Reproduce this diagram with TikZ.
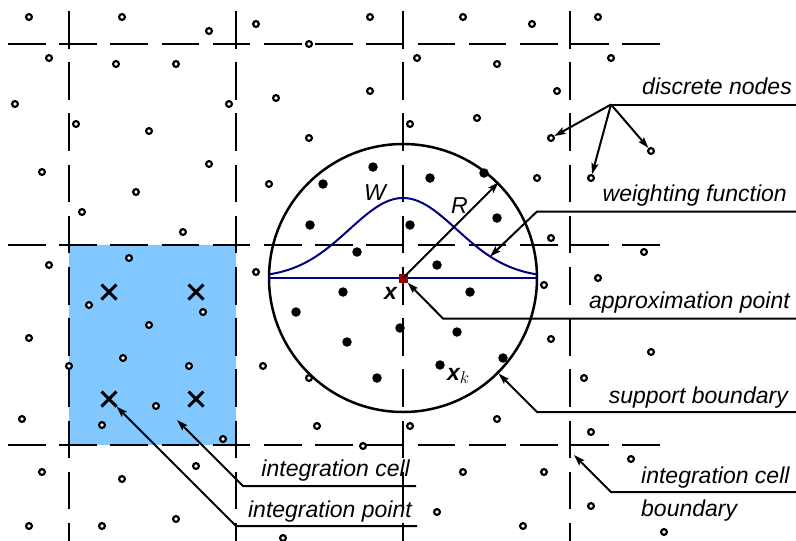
\documentclass[tikz,border=0pt]{standalone}
\usepackage{fontspec}
\setmainfont{Liberation Sans}
\usetikzlibrary{arrows.meta,shapes.misc}
\definecolor{cellblue}{RGB}{128,200,255}
\definecolor{wnavy}{RGB}{0,0,128}
\definecolor{apred}{RGB}{150,0,0}
\newcommand{\tagfont}{\fontsize{23}{27}\selectfont\itshape}

\begin{document}
\begin{tikzpicture}[
  x=1pt, y=-1pt,
  gridline/.style={line width=2pt, dash pattern=on 37.5pt off 13.7pt},
  dnode/.style={circle, draw, line width=2.2pt, fill=white, minimum size=5.8pt, inner sep=0pt},
  fnode/.style={circle, fill=black, minimum size=9.5pt, inner sep=0pt},
  ipoint/.style={cross out, draw, line width=3pt, minimum size=12pt, inner sep=0pt},
  tag/.style={font=\tagfont, inner sep=0pt},
  leader/.style={line width=2pt},
  arrow/.style={-{Stealth[length=11pt,width=7pt,inset=2pt]}, line width=2pt},
  wcurve/.style={wnavy, line width=2pt}
]
  \useasboundingbox (0,0) rectangle (796,541);

  \node[fill=cellblue, minimum width=167pt, minimum height=200pt, inner sep=0pt] (cell) at (152.5,345) {};

  \foreach \gx in {69,236,403,570}
    \draw[gridline] (\gx,11) -- (\gx,541);
  \foreach \gy in {44,245,445}
    \draw[gridline] (8,\gy) -- (660,\gy);

  \node[circle, draw, line width=2.5pt, minimum size=268pt, inner sep=0pt] (supp) at (403,278) {};
  \draw[wcurve] plot[domain=-134:134, samples=90, smooth] ({403+\x},{278-80*exp(-(\x/76)*(\x/76))});
  \draw[wcurve] (supp.west) -- (supp.east);

  \foreach \px/\py [count=\i] in {373/167, 323/184, 430/178, 484/173, 310/225, 410/225, 497/218, 357/252,
    437/265, 343/292, 470/292, 296/312, 400/328, 457/332, 347/342, 503/358, 440/365, 377/378}
    \node[fnode] (k\i) at (\px,\py) {};

  \foreach \px/\py [count=\i] in {109/292, 196/292, 109/399, 196/399}
    \node[ipoint] (ip\i) at (\px,\py) {};

  \foreach \px/\py [count=\i] in {29/17, 122/17, 209/31, 256/24, 370/17, 463/17, 532/24, 598/17,
    49/58, 116/64, 176/64, 309/44, 417/58, 497/64, 611/58,
    15/104, 229/104, 276/98, 370/91, 557/91, 76/124, 149/131, 410/124, 477/118, 309/138,
    42/172, 209/164, 269/184, 537/178, 136/192, 82/212, 183/232, 551/238, 644/252,
    49/265, 129/258, 256/272, 89/305, 203/312, 149/325, 29/338, 123/358, 69/366, 189/366, 263/366,
    156/406, 22/419, 102/425, 223/439, 42/472, 122/479, 196/466, 29/526, 102/526, 176/519,
    309/378, 317/426, 410/426, 497/419, 363/446, 463/472, 437/512, 523/526, 283/538,
    544/285, 598/278, 551/339, 651/352, 584/378, 591/432, 631/459, 544/472, 591/506, 664/532}
    \node[dnode] (n\i) at (\px,\py) {};
  \node[dnode] (dn1) at (551,138) {};
  \node[dnode] (dn2) at (591,178) {};
  \node[dnode] (dn3) at (651,151) {};

  \node[fill=apred, minimum size=9pt, inner sep=0pt] (ap) at (403,278) {};
  \draw[arrow] (ap.center) -- (supp.45);

  \node[tag, anchor=base west] (w) at (364,200) {W};
  \node[tag, anchor=base west] (r) at (451,213) {R};
  \node[tag, anchor=base west] (xl) at (384,299) {\textbf{x}};
  \node[tag, anchor=base west] (xk) at (447,380) {\textbf{x}$_k$};

  \coordinate (dn-r) at (796,104.5);
  \coordinate (dn-l) at (611,104.5);
  \coordinate (wf-r) at (796,211.5);
  \coordinate (wf-l) at (537,211.5);
  \coordinate (wf-tip) at (490,256.5);
  \coordinate (ap-r) at (796,318.5);
  \coordinate (ap-l) at (443,318.5);
  \coordinate (sb-r) at (796,412);
  \coordinate (sb-l) at (537,412);
  \coordinate (cb-r) at (796,492);
  \coordinate (cb-l) at (611,492);
  \coordinate (cb-tip) at (574,455);
  \coordinate (ic-r) at (416,486);
  \coordinate (ic-l) at (243,486);
  \coordinate (ic-tip) at (177,420);
  \coordinate (ipt-r) at (417,526);
  \coordinate (ipt-l) at (236,526);

  \draw[leader] (dn-r) -- (dn-l);
  \draw[arrow] (dn-l) -- (dn1);
  \draw[arrow] (dn-l) -- (dn2);
  \draw[arrow] (dn-l) -- (dn3);
  \draw[arrow] (wf-r) -- (wf-l) -- (wf-tip);
  \draw[arrow] (ap-r) -- (ap-l) -- (ap);
  \draw[arrow] (sb-r) -- (sb-l) -- (supp);
  \draw[arrow] (cb-r) -- (cb-l) -- (cb-tip);
  \draw[arrow] (ic-r) -- (ic-l) -- (ic-tip);
  \draw[arrow] (ipt-r) -- (ipt-l) -- (ip3);

  \node[tag, anchor=base east] (t-dn) at (792,94.5) {discrete nodes};
  \node[tag, anchor=base east] (t-wf) at (787,201) {weighting function};
  \node[tag, anchor=base east] (t-ap) at (790,308) {approximation point};
  \node[tag, anchor=base east] (t-sb) at (788,403) {support boundary};
  \node[tag, anchor=base west] (t-cb1) at (641,483) {integration cell};
  \node[tag, anchor=base west] (t-cb2) at (641,516) {boundary};
  \node[tag, anchor=base east] (t-ic) at (410,476) {integration cell};
  \node[tag, anchor=base east] (t-ip) at (412,517) {integration point};
\end{tikzpicture}
\end{document}
